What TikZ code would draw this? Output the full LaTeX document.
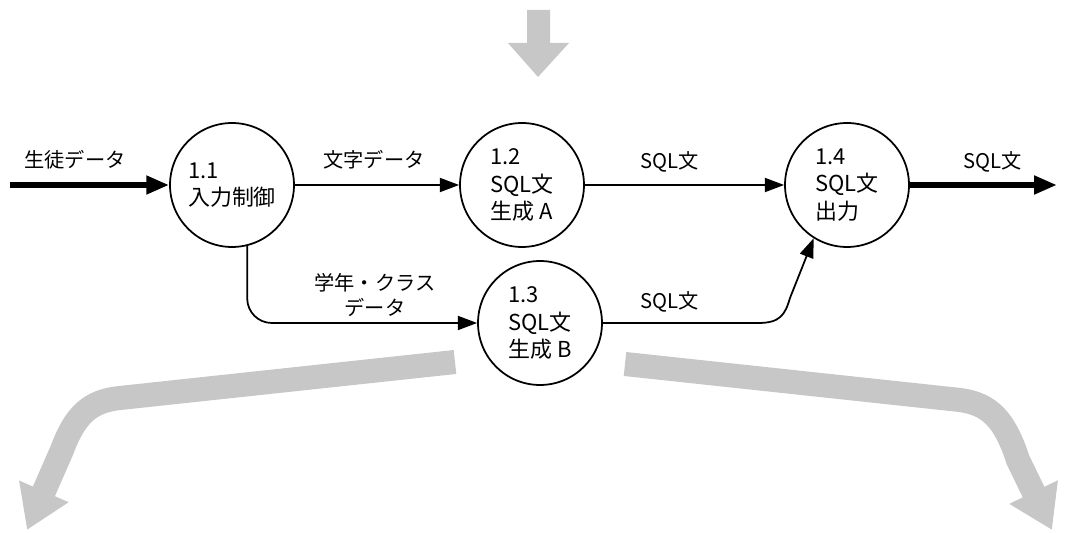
\documentclass[tikz,border=0pt]{standalone}
\usepackage{fontspec}
\setmainfont{Noto Sans CJK JP}
\usetikzlibrary{arrows.meta}

\begin{document}
\begin{tikzpicture}[x=0.02cm,y=-0.02cm,
  proc/.style={circle,draw,line width=1pt,minimum size=2.48cm,inner sep=0pt,
    align=left,font=\fontsize{12.5}{15.5}\selectfont},
  flow/.style={line width=1pt,-{Triangle[length=11pt,width=8pt]}},
  bigflow/.style={line width=3.5pt,-{Triangle[length=13pt,width=10pt]}},
  lab/.style={font=\fontsize{11.5}{14}\selectfont,align=center},
  shade/.style={black!22}]
 \useasboundingbox (0,0) rectangle (1066,533);

 % grey arrows
 \fill[shade] (527,10)--(550,10)--(550,43)--(569,43)--(538,77)--(508,43)--(527,43)--cycle;
 \draw[shade,line width=13.7pt,-{Triangle[length=24pt,width=29pt]}]
   (455,362)--(120,398) .. controls (90,401) and (75,415) .. (62,450)--(27,530);
 \draw[shade,line width=13.7pt,-{Triangle[length=24pt,width=29pt]}]
   (625,364)--(960,400) .. controls (990,404) and (1005,420) .. (1018,460)--(1052,530);

 % processes
 \node[proc] (p11) at (232,185) {1.1\\入力制御};
 \node[proc] (p12) at (522,185) {1.2\\SQL文\\生成 A};
 \node[proc] (p13) at (540,323) {1.3\\SQL文\\生成 B};
 \node[proc] (p14) at (847,185) {1.4\\SQL文\\出力};

 \coordinate (in) at (10,185);
 \coordinate (out) at (1057,185);

 % flows
 \draw[bigflow] (in)--(p11);
 \draw[flow] (p11)--(p12);
 \draw[flow,rounded corners=14pt] (p11.284)|-(p13);
 \draw[flow] (p12)--(p14);
 \draw[flow] (p13.east)--(758,323) .. controls (780,323) and (785,315) .. (790,298)--(p14.238);
 \draw[bigflow] (p14)--(out);

 % labels
 \node[lab] (l1) at (75,160) {生徒データ};
 \node[lab] (l2) at (374,160) {文字データ};
 \node[lab] (l3) at (375,295) {学年・クラス\\データ};
 \node[lab] (l4) at (670,162) {SQL文};
 \node[lab] (l5) at (670,302) {SQL文};
 \node[lab] (l6) at (993,162) {SQL文};
\end{tikzpicture}
\end{document}
